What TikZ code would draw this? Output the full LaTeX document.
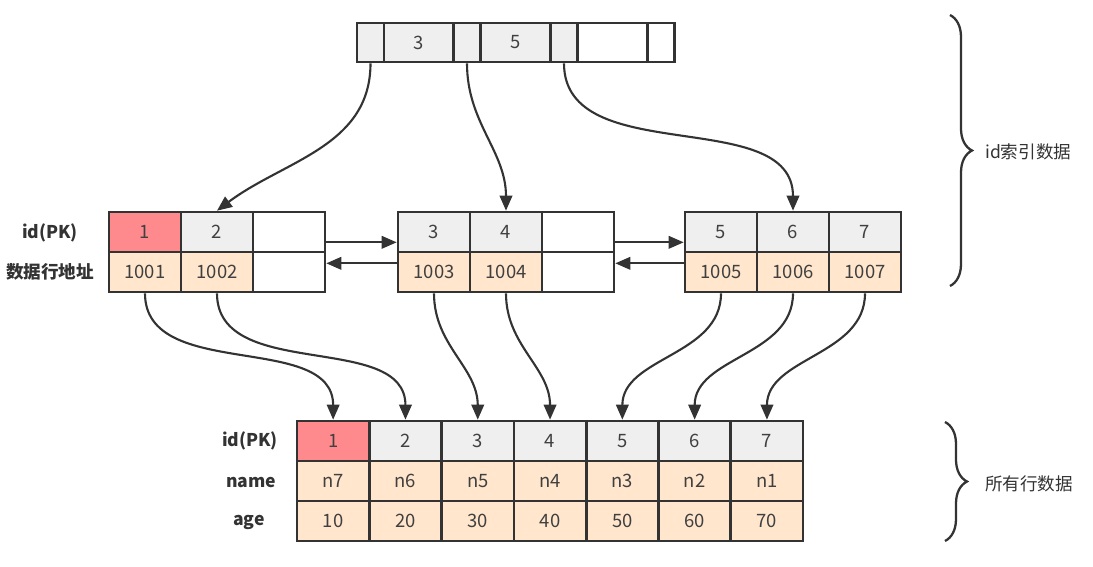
\documentclass[tikz,border=0pt]{standalone}
\usepackage{fontspec}
\setmainfont{Noto Sans CJK SC}
\usetikzlibrary{arrows.meta, positioning, decorations.pathreplacing}
\definecolor{lineDark}{HTML}{333333}
\definecolor{textDark}{HTML}{404040}
\definecolor{keyRed}{HTML}{FF8A8E}
\definecolor{keyGray}{HTML}{EFEFEF}
\definecolor{rowPeach}{HTML}{FFE6CC}

\begin{document}
\begin{tikzpicture}[
    x=0.02cm, y=-0.02cm,
    cell/.style={rectangle, draw=lineDark, line width=1.5pt, fill=#1,
                 minimum width=1.44cm, minimum height=0.8cm, inner sep=0pt,
                 font=\fontsize{10.5}{12}\selectfont\color{textDark}},
    cell/.default=white,
    ptr/.style={cell=keyGray, minimum width=0.54cm, minimum height=0.78cm},
    keycell/.style={cell=#1, minimum width=1.4cm, minimum height=0.78cm},
    keycell/.default=keyGray,
    rowcell/.style={cell=#1, minimum width=1.446cm},
    lbl/.style={font=\fontsize{10}{12}\selectfont\bfseries\color{lineDark}},
    note/.style={font=\fontsize{10}{12}\selectfont\color{lineDark}, anchor=west},
    arr/.style={draw=lineDark, line width=1.2pt,
                -{Triangle[length=0.3cm, width=0.25cm]}},
    brc/.style={draw=lineDark, line width=1.3pt, decorate,
                decoration={brace, amplitude=0.44cm}},
  ]
    \useasboundingbox (0,0) rectangle (1093,566);

    % root page
    \node[ptr] (p1) at (370.5,42.5) {};
    \node[keycell] (k3) at (419,42.5) {3};
    \node[ptr] (p2) at (467,42.5) {};
    \node[keycell] (k5) at (515.5,42.5) {5};
    \node[ptr] (p3) at (564,42.5) {};
    \node[keycell=white] (k7) at (612.5,42.5) {};
    \node[ptr, fill=white] (p4) at (661,42.5) {};

    % leaf pages
    \node[lbl] (hk) at (50,233) {id(PK)};
    \node[lbl] (ha) at (50,272) {数据行地址};

    \node[cell=keyRed] (lk1) at (145,232) {1};
    \node[cell=keyGray] (lk2) at (217,232) {2};
    \node[cell] (lk3) at (289,232) {};
    \node[cell=rowPeach] (la1) at (145,272) {1001};
    \node[cell=rowPeach] (la2) at (217,272) {1002};
    \node[cell] (la3) at (289,272) {};

    \node[cell=keyGray] (mk1) at (434,232) {3};
    \node[cell=keyGray] (mk2) at (506,232) {4};
    \node[cell] (mk3) at (578,232) {};
    \node[cell=rowPeach] (ma1) at (434,272) {1003};
    \node[cell=rowPeach] (ma2) at (506,272) {1004};
    \node[cell] (ma3) at (578,272) {};

    \node[cell=keyGray] (rk1) at (721,232) {5};
    \node[cell=keyGray] (rk2) at (793,232) {6};
    \node[cell=keyGray] (rk3) at (865,232) {7};
    \node[cell=rowPeach] (ra1) at (721,272) {1005};
    \node[cell=rowPeach] (ra2) at (793,272) {1006};
    \node[cell=rowPeach] (ra3) at (865,272) {1007};

    % row data
    \node[lbl] (hid) at (250,441) {id(PK)};
    \node[lbl] (hnm) at (251,482) {name};
    \node[lbl] (hag) at (249,522) {age};

    \node[rowcell=keyRed] (id1) at (333.15,441) {1};
    \node[rowcell=keyGray] (id2) at (405.45,441) {2};
    \node[rowcell=keyGray] (id3) at (477.75,441) {3};
    \node[rowcell=keyGray] (id4) at (550.05,441) {4};
    \node[rowcell=keyGray] (id5) at (622.35,441) {5};
    \node[rowcell=keyGray] (id6) at (694.65,441) {6};
    \node[rowcell=keyGray] (id7) at (766.95,441) {7};

    \node[rowcell=rowPeach] (nm1) at (333.15,481) {n7};
    \node[rowcell=rowPeach] (nm2) at (405.45,481) {n6};
    \node[rowcell=rowPeach] (nm3) at (477.75,481) {n5};
    \node[rowcell=rowPeach] (nm4) at (550.05,481) {n4};
    \node[rowcell=rowPeach] (nm5) at (622.35,481) {n3};
    \node[rowcell=rowPeach] (nm6) at (694.65,481) {n2};
    \node[rowcell=rowPeach] (nm7) at (766.95,481) {n1};

    \node[rowcell=rowPeach] (ag1) at (333.15,521) {10};
    \node[rowcell=rowPeach] (ag2) at (405.45,521) {20};
    \node[rowcell=rowPeach] (ag3) at (477.75,521) {30};
    \node[rowcell=rowPeach] (ag4) at (550.05,521) {40};
    \node[rowcell=rowPeach] (ag5) at (622.35,521) {50};
    \node[rowcell=rowPeach] (ag6) at (694.65,521) {60};
    \node[rowcell=rowPeach] (ag7) at (766.95,521) {70};

    % root -> leaves
    \draw[arr] (p1.south) to[out=-90, in=37] (lk2.north);
    \draw[arr] (p2.south) to[out=-90, in=90] (mk2.north);
    \draw[arr] (p3.south) to[out=-90, in=90] (rk2.north);

    % leaf links
    \draw[arr] ([yshift=0.22cm]lk3.south east) -- ([yshift=0.22cm]mk1.south west);
    \draw[arr] ([yshift=-0.2cm]mk1.south west) -- ([yshift=-0.2cm]lk3.south east);
    \draw[arr] ([yshift=0.22cm]mk3.south east) -- ([yshift=0.22cm]rk1.south west);
    \draw[arr] ([yshift=-0.2cm]rk1.south west) -- ([yshift=-0.2cm]mk3.south east);

    % leaves -> rows
    \draw[arr] (la1.south) to[out=-90, in=90] (id1.north);
    \draw[arr] (la2.south) to[out=-90, in=90] (id2.north);
    \draw[arr] (ma1.south) to[out=-90, in=90] (id3.north);
    \draw[arr] (ma2.south) to[out=-90, in=90] (id4.north);
    \draw[arr] (ra1.south) to[out=-90, in=90] (id5.north);
    \draw[arr] (ra2.south) to[out=-90, in=90] (id6.north);
    \draw[arr] (ra3.south) to[out=-90, in=90] (id7.north);

    % braces
    \coordinate (ib1) at (950,15);
    \coordinate (ib2) at (950,286);
    \draw[brc] (ib1) -- (ib2);
    \node[note] (idx) at (979,152) {id索引数据};

    \coordinate (rb1) at (945,422);
    \coordinate (rb2) at (945,541);
    \draw[brc] (rb1) -- (rb2);
    \node[note] (rows) at (979,484) {所有行数据};
\end{tikzpicture}
\end{document}
